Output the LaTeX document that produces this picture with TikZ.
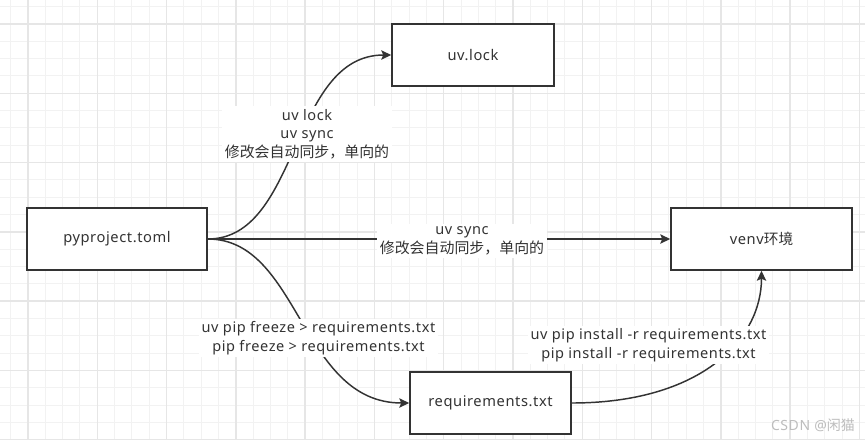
\documentclass[tikz,border=0pt]{standalone}
\usepackage{fontspec}
\setmainfont[LetterSpace=4]{Noto Sans}
\newfontfamily\cjk{Noto Sans CJK SC}
\usetikzlibrary{arrows.meta}
\definecolor{ink}{HTML}{333333}
\definecolor{minorc}{HTML}{F2F2F2}
\definecolor{majorc}{HTML}{E6E6E6}
\definecolor{wmark}{HTML}{BDBDBD}
\tikzset{
  minorgrid/.style={draw=minorc, line width=0.75pt},
  majorgrid/.style={draw=majorc, line width=1.1pt},
  box/.style={draw=ink, line width=1.1pt, fill=white, inner sep=0pt,
    minimum height=46.5pt, font=\fontsize{11}{13}\selectfont, text=ink},
  elabel/.style={fill=white, align=center, inner sep=2pt, text=ink,
    font=\fontsize{10.9}{13.9}\selectfont},
  edge/.style={draw=ink, line width=1.1pt,
    -{Stealth[length=7.5pt, width=7pt, inset=1.5pt]}}
}
\begin{document}
\begin{tikzpicture}[x=0.75pt, y=-0.75pt]
\useasboundingbox (0,0) rectangle (865,440);
\fill[white] (0,0) rectangle (865,440);
\begin{scope}
  \clip (0,0) rectangle (865,440);
  \foreach \i in {-2,...,50} {
    \draw[minorgrid] ({28+\i*17.32},0) -- ({28+\i*17.32},440);
  }
  \foreach \i in {-2,...,25} {
    \draw[minorgrid] (0,{24+\i*17.32}) -- (865,{24+\i*17.32});
  }
  \foreach \i in {-1,...,12} {
    \draw[majorgrid] ({28+\i*69.28},0) -- ({28+\i*69.28},440);
  }
  \foreach \i in {-1,...,6} {
    \draw[majorgrid] (0,{24+\i*69.28}) -- (865,{24+\i*69.28});
  }
\end{scope}

% boxes
\node[box, minimum width=135pt] (py) at (117,239) {pyproject.toml};
\node[box, minimum width=121.5pt] (lock) at (473,55) {uv.lock};
\node[box, minimum width=135.75pt] (venv) at (761.5,239) {venv{\cjk\fontsize{11}{13}\selectfont 环境}};
\node[box, minimum width=120.75pt] (req) at (490.5,403) {requirements.txt};

% connectors
\draw[edge] (py.east) .. controls (300,239) and (290,55) .. (lock.west);
\draw[edge] (py.east) -- (venv.west);
\draw[edge] (py.east) .. controls (300,239) and (300,403) .. (req.west);
\draw[edge] (req.east) .. controls (700,403) and (761.5,340) .. (venv.south);

% connector labels
\node[elabel] (l1) at (307,134) {uv lock\\uv sync\\{\cjk\fontsize{11.2}{13.9}\selectfont 修改会自动同步，单向的}};
\node[elabel] (l2) at (462,241) {uv sync\\{\cjk\fontsize{11.2}{13.9}\selectfont 修改会自动同步，单向的}};
\node[elabel] (l3) at (318.5,338) {uv pip freeze > requirements.txt\\pip freeze > requirements.txt};
\node[elabel] (l4) at (648.5,345) {uv pip install -r requirements.txt\\pip install -r requirements.txt};

% watermark
\node[text=wmark, font=\fontsize{10.5}{12}\selectfont, inner sep=0pt] (wm) at (813,425) {CSDN @{\cjk 闲猫}};
\end{tikzpicture}
\end{document}
